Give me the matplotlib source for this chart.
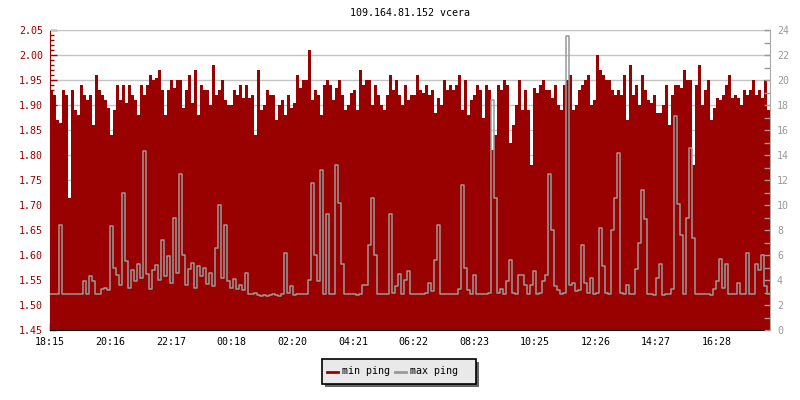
"""
Ping chart for 109.164.81.152: min ping (left axis, filled) and max ping
(right axis, step line) over the last 24 hours, one sample every 6 minutes.
"""

import matplotlib
matplotlib.use("Agg")
import matplotlib.pyplot as plt
from matplotlib.lines import Line2D
from matplotlib.patches import Rectangle
import numpy as np

TITLE = "109.164.81.152 vcera"
START = "18:15"
STEP_MIN = 6
TICK_LABELS = ["18:15", "20:16", "22:17", "00:18", "02:20", "04:21",
               "06:22", "08:23", "10:25", "12:26", "14:27", "16:28"]
SERIES = ["min ping", "max ping"]

min_ping = [
    1.93, 1.92, 1.87, 1.865, 1.93, 1.92, 1.715, 1.93, 1.89, 1.88,
    1.94, 1.92, 1.91, 1.92, 1.86, 1.96, 1.93, 1.92, 1.91, 1.895,
    1.84, 1.89, 1.94, 1.91, 1.94, 1.905, 1.94, 1.92, 1.91, 1.88,
    1.94, 1.92, 1.94, 1.96, 1.95, 1.955, 1.97, 1.93, 1.88, 1.93,
    1.95, 1.935, 1.95, 1.95, 1.895, 1.93, 1.96, 1.905, 1.97, 1.88,
    1.94, 1.93, 1.93, 1.90, 1.98, 1.92, 1.93, 1.95, 1.91, 1.90,
    1.90, 1.93, 1.92, 1.94, 1.915, 1.94, 1.915, 1.92, 1.84, 1.97,
    1.89, 1.90, 1.93, 1.92, 1.92, 1.87, 1.90, 1.91, 1.88, 1.92,
    1.895, 1.905, 1.96, 1.935, 1.95, 1.95, 2.01, 1.91, 1.93, 1.92,
    1.88, 1.94, 1.95, 1.94, 1.91, 1.935, 1.95, 1.92, 1.89, 1.90,
    1.925, 1.93, 1.89, 1.97, 1.94, 1.95, 1.95, 1.90, 1.94, 1.92,
    1.90, 1.89, 1.92, 1.96, 1.93, 1.95, 1.92, 1.90, 1.94, 1.91,
    1.92, 1.92, 1.96, 1.93, 1.925, 1.94, 1.92, 1.93, 1.885, 1.915,
    1.90, 1.95, 1.93, 1.94, 1.93, 1.94, 1.96, 1.89, 1.95, 1.88,
    1.91, 1.92, 1.94, 1.93, 1.875, 1.94, 1.93, 1.81, 1.84, 1.94,
    1.93, 1.95, 1.94, 1.825, 1.86, 1.90, 1.95, 1.89, 1.93, 1.89,
    1.78, 1.935, 1.925, 1.94, 1.95, 1.93, 1.93, 1.915, 1.94, 1.90,
    1.89, 1.94, 1.95, 1.96, 1.89, 1.90, 1.93, 1.94, 1.95, 1.96,
    1.90, 1.91, 2.00, 1.97, 1.96, 1.95, 1.95, 1.93, 1.92, 1.93,
    1.92, 1.96, 1.87, 1.98, 1.92, 1.94, 1.90, 1.96, 1.93, 1.91,
    1.905, 1.92, 1.885, 1.885, 1.90, 1.94, 1.86, 1.92, 1.94, 1.94,
    1.935, 1.97, 1.95, 1.95, 1.78, 1.94, 1.98, 1.90, 1.93, 1.95,
    1.87, 1.895, 1.915, 1.91, 1.92, 1.94, 1.96, 1.915, 1.92, 1.915,
    1.90, 1.93, 1.92, 1.93, 1.95, 1.92, 1.93, 1.915, 1.95, 1.89,
]

max_ping = [
    2.9, 2.85, 2.9, 8.4, 2.9, 2.85, 2.9, 2.85, 2.9, 2.85,
    2.9, 3.9, 2.9, 4.3, 3.9, 2.85, 2.9, 3.3, 3.4, 3.2,
    8.3, 5.0, 4.4, 3.6, 11.0, 5.5, 3.4, 4.8, 3.9, 5.3,
    4.2, 14.3, 4.5, 3.3, 4.8, 5.2, 4.0, 7.2, 4.3, 5.9,
    3.8, 9.0, 4.6, 12.5, 6.0, 3.6, 4.9, 5.4, 3.4, 5.1,
    4.3, 5.0, 3.7, 4.6, 3.5, 6.6, 10.0, 4.2, 8.4, 3.9,
    3.4, 4.1, 3.3, 3.6, 3.2, 4.6, 2.9, 2.85, 3.0, 2.8,
    2.75, 2.8, 2.75, 2.8, 2.85, 2.8, 2.75, 2.85, 6.2, 3.0,
    3.5, 2.8, 2.85, 2.9, 2.85, 2.9, 4.0, 11.8, 6.0, 3.9,
    12.8, 2.9, 9.3, 2.9, 2.85, 13.2, 10.2, 5.3, 2.9, 2.85,
    2.85, 2.9, 2.8, 2.9, 3.6, 3.6, 6.8, 10.6, 6.0, 2.9,
    2.85, 2.9, 2.85, 9.3, 3.0, 3.5, 4.5, 2.9, 4.0, 4.7,
    2.9, 2.85, 2.9, 2.85, 2.9, 3.0, 3.8, 3.1, 5.6, 8.4,
    2.9, 2.85, 2.9, 2.85, 2.9, 2.85, 3.3, 11.6, 5.0, 3.2,
    2.9, 4.4, 2.9, 2.85, 2.9, 2.85, 3.0, 18.4, 10.6, 3.0,
    3.3, 2.9, 3.9, 5.6, 3.0, 2.9, 4.4, 4.4, 3.6, 2.9,
    3.6, 4.7, 2.9, 3.0, 3.9, 4.4, 12.5, 8.0, 3.5, 3.2,
    2.9, 3.0, 23.5, 3.6, 3.8, 3.1, 3.2, 6.8, 3.8, 3.0,
    4.2, 2.9, 3.0, 8.2, 5.1, 3.0, 2.9, 8.0, 10.6, 14.2,
    3.0, 2.9, 3.6, 2.9, 2.85, 4.9, 7.0, 11.2, 8.9, 2.9,
    2.9, 2.8, 4.2, 5.3, 2.8, 2.9, 2.85, 3.3, 17.1, 10.1,
    7.6, 2.9, 9.0, 14.6, 7.4, 2.9, 2.85, 2.9, 2.85, 2.9,
    2.8, 3.3, 3.9, 5.7, 3.4, 5.3, 2.9, 2.85, 2.9, 3.8,
    2.85, 2.9, 6.2, 2.85, 2.9, 5.3, 4.8, 6.0, 3.5, 2.9,
]

RED = "#990000"
GRAY = "#999999"
GRID = "#c4c4c4"
FONT = "DejaVu Sans Mono"
FS = 7.2
W, H = 800, 400


def minutes_from_start(label, start=START):
    h, m = map(int, label.split(":"))
    h0, m0 = map(int, start.split(":"))
    return ((h * 60 + m) - (h0 * 60 + m0)) % 1440


def px(x, y):
    """pixel position (top-left origin) -> figure fraction"""
    return x / W, 1 - y / H


plt.rcParams["font.family"] = FONT

n = len(min_ping)
span = n * STEP_MIN
edges = np.arange(n + 1) * STEP_MIN
y_min = np.append(min_ping, min_ping[-1])
y_max = np.append(max_ping, max_ping[-1])

fig = plt.figure(figsize=(W / 100, H / 100), dpi=100)
ax = fig.add_axes([50 / W, 70 / H, 720 / W, 300 / H])
ax2 = ax.twinx()

# min ping: filled area on the left axis
ax.fill_between(edges, 1.45, y_min, step="post", color=RED, linewidth=0, zorder=2)
ax.set_ylim(1.45, 2.05)
ax.set_xlim(0, span)
ax.set_yticks(np.arange(1.45, 2.051, 0.05))
ax.set_yticks(np.arange(1.45, 2.051, 0.01), minor=True)
ax.yaxis.set_major_formatter(matplotlib.ticker.FormatStrFormatter("%.2f"))
ax.grid(axis="y", color=GRID, linewidth=1, zorder=0)
ax.set_axisbelow(True)

ax.set_xticks([minutes_from_start(t) for t in TICK_LABELS])
ax.set_xticklabels(TICK_LABELS)

ax.tick_params(axis="y", which="major", direction="in", length=5, width=1,
               colors=RED, labelsize=FS, pad=5)
ax.tick_params(axis="y", which="minor", direction="in", length=3, width=1,
               colors=RED)
ax.tick_params(axis="x", direction="in", length=5, width=1, color="black",
               labelcolor="black", labelsize=FS, pad=5)

# max ping: step line on the right axis
ax2.plot(edges, y_max, drawstyle="steps-post", color=GRAY, linewidth=1.1)
ax2.set_ylim(0, 24)
ax2.set_yticks(np.arange(0, 25, 2))
ax2.set_yticks(np.arange(0, 25, 1), minor=True)
ax2.tick_params(axis="y", which="major", direction="in", length=4, width=1,
                colors=GRAY, labelsize=FS, pad=5)
ax2.tick_params(axis="y", which="minor", direction="in", length=4, width=1,
                colors=GRAY)

ax.spines["left"].set_color(RED)
ax.spines["bottom"].set_color("black")
ax.spines["top"].set_color(GRID)
ax.spines["right"].set_visible(False)
for side in ("left", "top", "bottom"):
    ax2.spines[side].set_visible(False)
ax2.spines["right"].set_color("#aaaaaa")

fig.text(*px(410, 13), TITLE, ha="center", va="center", fontsize=FS,
         color="black")

# legend box drawn by hand (rrdtool style: shadow, flat grey box)
bx, by, bw, bh = 322, 359, 154, 25
fig.add_artist(Rectangle(px(bx + 3, by + bh + 3), bw / W, bh / H,
                         transform=fig.transFigure, facecolor="#666666",
                         edgecolor="none"))
fig.add_artist(Rectangle(px(bx, by + bh), bw / W, bh / H,
                         transform=fig.transFigure, facecolor="#e9e9e9",
                         edgecolor="black", linewidth=1.2))
ly = by + bh / 2
for name, color, x0 in zip(SERIES, [RED, GRAY], [327, 395]):
    fig.add_artist(Line2D([x0 / W, (x0 + 11) / W], [1 - ly / H] * 2,
                          transform=fig.transFigure, color=color, linewidth=2))
    fig.text(*px(x0 + 15, ly), name, ha="left", va="center", fontsize=FS,
             color="black")

fig.savefig("out.png", dpi=100)
